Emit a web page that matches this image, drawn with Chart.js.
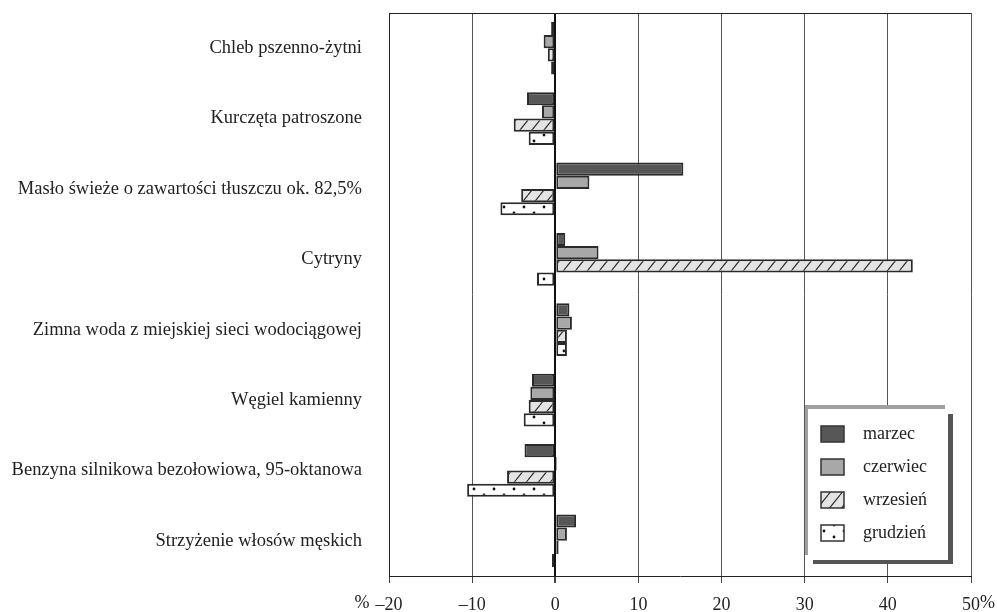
<!DOCTYPE html>
<html>
<head>
<meta charset="utf-8">
<script src="https://cdn.jsdelivr.net/npm/chart.js@4/dist/chart.umd.min.js"></script>
<style>
  html, body { margin: 0; padding: 0; background: #fff; }
  #wrap { width: 997px; height: 612px; }
</style>
</head>
<body>
<div id="wrap"><canvas id="chart" width="997" height="612"></canvas></div>
<script>
// Categories (top to bottom)
const categories = [
  'Chleb pszenno-żytni',
  'Kurczęta patroszone',
  'Masło świeże o zawartości tłuszczu ok. 82,5%',
  'Cytryny',
  'Zimna woda z miejskiej sieci wodociągowej',
  'Węgiel kamienny',
  'Benzyna silnikowa bezołowiowa, 95-oktanowa',
  'Strzyżenie włosów męskich'
];

const seriesNames = ['marzec', 'czerwiec', 'wrzesień', 'grudzień'];

// Values in %
const marzec   = [-0.5, -3.4, 15.4,  1.2, 1.7, -2.8, -3.7,  2.5];
const czerwiec = [-1.4, -1.6,  4.1,  5.2, 2.0, -3.0,  0.2,  1.4];
const wrzesien = [-0.9, -5.0, -4.1, 43.0, 1.4, -3.2, -5.8,  0.4];
const grudzien = [-0.5, -3.2, -6.6, -2.2, 1.4, -3.8, -10.6, -0.4];

const xTickLabels = ['–20', '–10', '0', '10', '20', '30', '40', '50'];

const FONT = "'Liberation Serif', 'DejaVu Serif', serif";
const TICK_PAD = 11;

// fill patterns
function hatchPattern() {
  const c = document.createElement('canvas');
  c.width = 12; c.height = 15;
  const g = c.getContext('2d');
  g.fillStyle = '#e4e4e4';
  g.fillRect(0, 0, 12, 15);
  g.strokeStyle = '#2a2a2a';
  g.lineWidth = 1.1;
  for (const dx of [-12, 0, 12]) {
    g.beginPath();
    g.moveTo(dx, 15);
    g.lineTo(dx + 12, 0);
    g.stroke();
  }
  return document.createElement('canvas').getContext('2d').createPattern(c, 'repeat');
}

function dotPattern() {
  const c = document.createElement('canvas');
  c.width = 20; c.height = 12;
  const g = c.getContext('2d');
  g.fillStyle = '#fff';
  g.fillRect(0, 0, 20, 12);
  g.fillStyle = '#111';
  g.beginPath(); g.arc(4, 3, 1.4, 0, Math.PI * 2); g.fill();
  g.beginPath(); g.arc(14, 9, 1.4, 0, Math.PI * 2); g.fill();
  return document.createElement('canvas').getContext('2d').createPattern(c, 'repeat');
}

const fills = ['#575757', '#a8a8a8', hatchPattern(), dotPattern()];
const seriesData = [marzec, czerwiec, wrzesien, grudzien];

// legend box with grey top/left edge and dark shadow
const legendBox = {
  id: 'legendBox',
  afterDraw(chart) {
    const ctx = chart.ctx;
    ctx.save();
    ctx.fillStyle = '#fff';
    ctx.fillRect(805, 405, 146, 158);
    ctx.fillStyle = '#a0a0a0';
    ctx.fillRect(805, 405, 140, 4);
    ctx.fillRect(805, 405, 3, 150);
    ctx.fillStyle = '#555';
    ctx.fillRect(948, 414, 5, 150);
    ctx.fillRect(813, 560, 140, 4);

    ctx.font = '18px ' + FONT;
    ctx.textBaseline = 'middle';
    ctx.textAlign = 'left';
    seriesNames.forEach((name, i) => {
      const y = 434 + i * 33;
      ctx.fillStyle = fills[i];
      ctx.fillRect(821, y - 8, 23, 16);
      ctx.strokeStyle = '#333';
      ctx.lineWidth = 1.5;
      ctx.strokeRect(821, y - 8, 23, 16);
      ctx.fillStyle = '#222';
      ctx.fillText(name, 863, y);
    });
    ctx.restore();
  }
};

// top frame line and "%" unit marks next to the end ticks
const frame = {
  id: 'frame',
  afterDraw(chart) {
    const { ctx, chartArea, scales } = chart;
    const x = scales.x;
    ctx.save();
    ctx.strokeStyle = '#222';
    ctx.lineWidth = 1;
    ctx.beginPath();
    ctx.moveTo(chartArea.left, chartArea.top + 0.5);
    ctx.lineTo(chartArea.right, chartArea.top + 0.5);
    ctx.stroke();

    ctx.font = '18px ' + FONT;
    ctx.fillStyle = '#222';
    ctx.textBaseline = 'middle';
    const ly = chartArea.bottom + 7 + TICK_PAD + 9;
    const xl = x.getPixelForValue(-20);
    const wl = ctx.measureText(xTickLabels[0]).width;
    ctx.textAlign = 'right';
    ctx.fillText('%', xl - wl / 2 - 6, ly);
    const xr = x.getPixelForValue(50);
    const wr = ctx.measureText(xTickLabels[xTickLabels.length - 1]).width;
    ctx.textAlign = 'left';
    ctx.fillText('%', xr + wr / 2, ly);
    ctx.restore();
  }
};

new Chart(document.getElementById('chart'), {
  type: 'bar',
  data: {
    labels: categories,
    datasets: seriesNames.map((name, i) => ({
      label: name,
      data: seriesData[i],
      backgroundColor: fills[i],
      borderColor: '#2a2a2a',
      borderWidth: 2,
      borderSkipped: false,
      categoryPercentage: 0.75,
      barPercentage: 1.0
    }))
  },
  options: {
    indexAxis: 'y',
    responsive: false,
    animation: false,
    layout: { padding: { top: 13, right: 26, left: 0, bottom: 0 } },
    plugins: {
      legend: { display: false },
      tooltip: { enabled: false }
    },
    scales: {
      x: {
        min: -20,
        max: 50,
        afterFit: (s) => {
          s.height = 36;
          s.paddingLeft = 0; s.paddingRight = 0;
          s.paddingTop = 0; s.paddingBottom = 0;
        },
        ticks: {
          stepSize: 10,
          color: '#222',
          font: { family: FONT, size: 18 },
          padding: TICK_PAD,
          maxRotation: 0,
          callback: (v, i) => xTickLabels[i]
        },
        grid: {
          color: (c) => (c.tick && c.tick.value === 0) ? '#111' : '#555',
          lineWidth: (c) => (c.tick && c.tick.value === 0) ? 2 : 1,
          tickLength: 7,
          tickColor: '#444'
        },
        border: { color: '#222', width: 1 }
      },
      y: {
        afterFit: (s) => {
          s.width = 389;
          s.paddingTop = 0; s.paddingBottom = 0;
          s.paddingLeft = 0; s.paddingRight = 0;
        },
        ticks: {
          color: '#222',
          font: { family: FONT, size: 18.5 },
          padding: 27
        },
        grid: { display: false, drawTicks: false },
        border: { color: '#222', width: 1 }
      }
    }
  },
  plugins: [frame, legendBox]
});
</script>
</body>
</html>
